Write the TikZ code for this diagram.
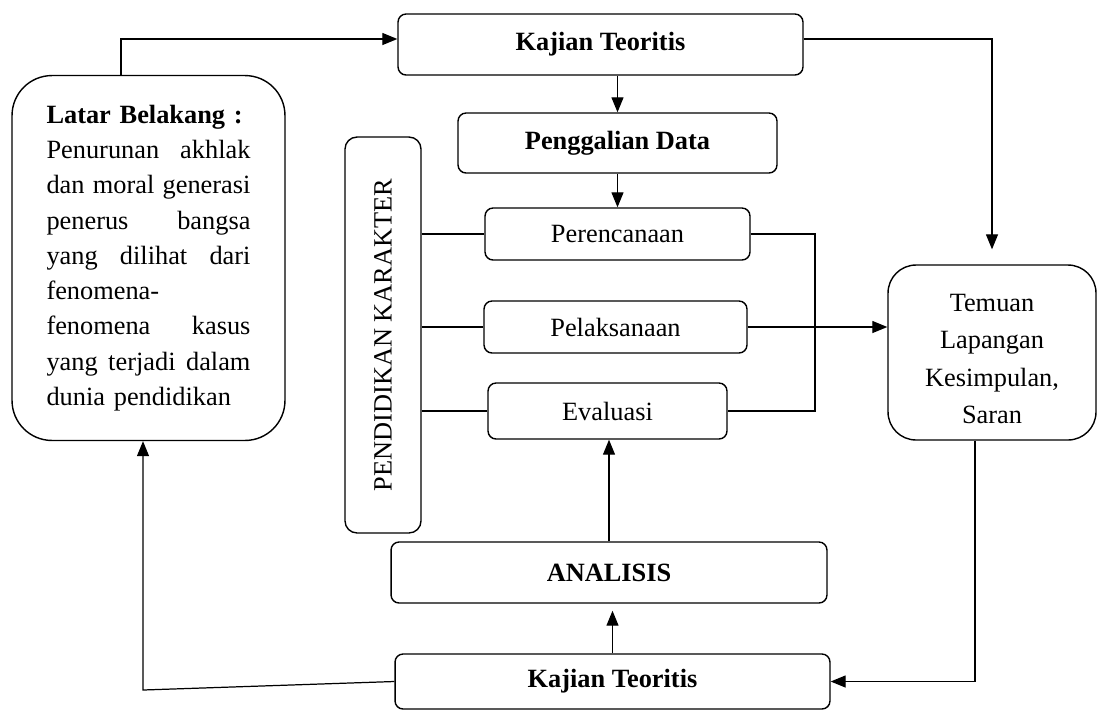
\documentclass[tikz,border=0pt]{standalone}
\usepackage{fontspec}
\setmainfont{Liberation Serif}
\usetikzlibrary{arrows.meta}
\newcommand{\jline}[1]{\leavevmode\hbox to 4.08cm{#1}}

\tikzset{
    box/.style={draw, rounded corners=0.16cm, line width=0.8pt, inner sep=0pt,
                font=\fontsize{15}{20}\selectfont},
    arr/.style={-{Triangle[length=0.3cm,width=0.24cm]}, line width=0.7pt},
    ln/.style={line width=0.7pt}
}

\begin{document}
\begin{tikzpicture}[x=0.02cm, y=-0.02cm]
            \useasboundingbox (0,0) rectangle (1098,711);
            \node[box, minimum width=8.1cm, minimum height=1.22cm] (kt1) at (600.5,44.5) {\textbf{Kajian Teoritis}};
            \node[box, rounded corners=0.8cm, minimum width=5.46cm, minimum height=7.3cm,
                  text width=4.08cm, align=left, font=\fontsize{15}{20.1}\selectfont] (latar) at (148.5,258)
                  {\textbf{Latar Belakang :}\\
                   \jline{Penurunan\hfill akhlak}\\
                   \jline{dan\hfill moral\hfill generasi}\\
                   \jline{penerus\hfill bangsa}\\
                   \jline{yang\hfill dilihat\hfill dari}\\
                   fenomena-\\
                   \jline{fenomena\hfill kasus}\\
                   \jline{yang\hfill terjadi\hfill dalam}\\
                   dunia pendidikan};
            \node[box, minimum width=6.38cm, minimum height=1.2cm] (gali) at (617.5,143) {\textbf{Penggalian Data}};
            \node[box, minimum width=5.3cm, minimum height=1.04cm] (renc) at (617.5,234) {Perencanaan};
            \node[box, minimum width=5.26cm, minimum height=1.04cm] (laks) at (615.5,327) {Pelaksanaan};
            \node[box, minimum width=4.78cm, minimum height=1.12cm] (eval) at (607.5,411) {Evaluasi};
            \node[box, rounded corners=0.24cm, minimum width=1.52cm, minimum height=7.92cm] (pk) at (383,335)
                  {\rotatebox{90}{PENDIDIKAN KARAKTER}};
            \node[box, rounded corners=0.56cm, minimum width=4.16cm, minimum height=3.5cm] (temuan) at (992,352.5) {};
            \node[align=center, font=\fontsize{15}{21.4}\selectfont] (temuantxt) at (992,359)
                  {Temuan\\Lapangan\\Kesimpulan,\\Saran};
            \node[box, minimum width=8.72cm, minimum height=1.22cm] (anal) at (609,572.5) {\textbf{ANALISIS}};
            \node[box, minimum width=8.7cm, minimum height=1.1cm] (kt2) at (612.5,681.5) {\textbf{Kajian Teoritis}};

            \coordinate (br) at (815,0);
            \coordinate (lb) at (143,690);

            \draw[arr] ([xshift=-0.55cm]latar.north) |- ([yshift=0.11cm]kt1.west);
            \draw[arr] ([yshift=0.11cm]kt1.east) -| ([yshift=0.3cm]temuan.north);
            \draw[arr] (kt1.south -| gali.north) -- (gali.north);
            \draw[arr] (gali.south) -- (renc.north);
            \draw[ln] (renc.west -| pk.east) -- (renc.west);
            \draw[ln] (laks.west -| pk.east) -- (laks.west);
            \draw[ln] (eval.west -| pk.east) -- (eval.west);
            \draw[ln] (renc.east) -| (br |- eval.east) -- (eval.east);
            \draw[arr] (laks.east) -- (laks.east -| temuan.west);
            \draw[arr] (anal.north) -- (anal.north |- eval.south);
            \draw[arr, shorten >=0.14cm] (kt2.north) -- (kt2.north |- anal.south);
            \draw[arr] (kt2.west) -- (lb) -- (lb |- latar.south);
            \draw[arr] ([xshift=-0.34cm]temuan.south) |- (kt2.east);
        \end{tikzpicture}
\end{document}
